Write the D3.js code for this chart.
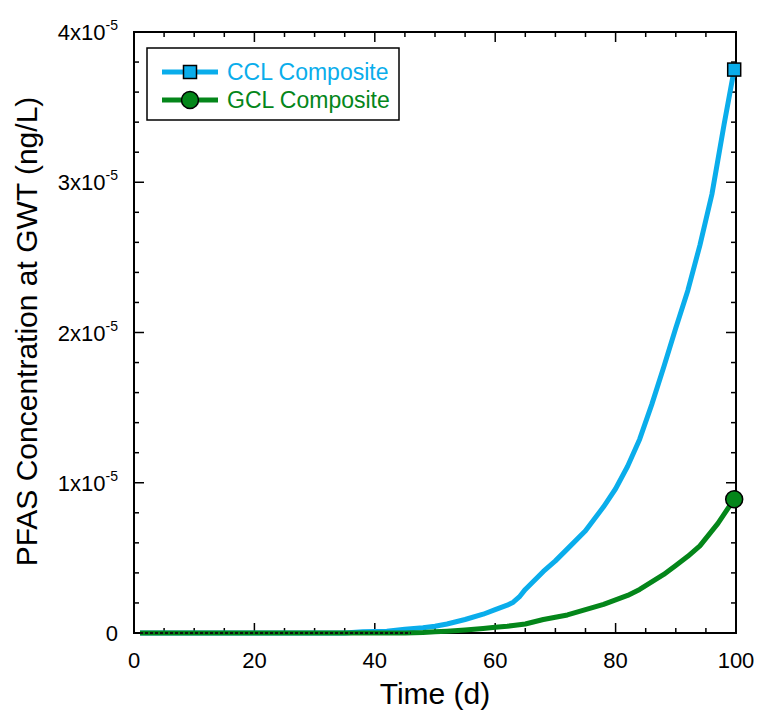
<!DOCTYPE html>
<html>
<head>
<meta charset="utf-8">
<script src="https://cdn.jsdelivr.net/npm/d3@7"></script>
<style>
    body { margin: 0; background: #fff; }
    svg text { font-family: "Liberation Sans", Arial, sans-serif; fill: #000; }
</style>
</head>
<body>
<div id="chart"></div>
<script>
// Days and concentrations (x 1e-5 ng/L)
var days = [1, 5, 10, 15, 20, 25, 30, 35, 38, 42, 45, 48, 50, 52, 55, 58, 60, 62, 63, 64, 65, 68, 70, 72, 75, 78, 80, 82, 84, 86, 88, 90, 92, 94, 96, 97, 98, 99.7];
var cclValues = [0, 0, 0, 0, 0, 0, 0, 0, 0.008, 0.012, 0.025, 0.035, 0.045, 0.06, 0.09, 0.125, 0.155, 0.185, 0.205, 0.24, 0.29, 0.41, 0.48, 0.56, 0.68, 0.84, 0.96, 1.11, 1.29, 1.52, 1.77, 2.03, 2.28, 2.58, 2.92, 3.15, 3.38, 3.75];
var gclValues = [0, 0, 0, 0, 0, 0, 0, 0, 0, 0, 0, 0.003, 0.008, 0.012, 0.02, 0.03, 0.038, 0.045, 0.05, 0.055, 0.06, 0.09, 0.105, 0.12, 0.155, 0.19, 0.22, 0.25, 0.29, 0.34, 0.39, 0.45, 0.51, 0.58, 0.68, 0.73, 0.79, 0.89];
var seriesNames = ["CCL Composite", "GCL Composite"];
var seriesColors = ["#0AADEB", "#04861A"];
var xTicks = [0, 20, 40, 60, 80, 100];
var yTicks = [0, 1, 2, 3, 4];
var zeroSpan = [1, 46]; // dotted stretch along the zero line

var width = 760, height = 715;
var margin = { top: 32, right: 24, bottom: 82, left: 134 };
var w = width - margin.left - margin.right,
    h = height - margin.top - margin.bottom;

var svg = d3.select("#chart").append("svg")
    .attr("width", width).attr("height", height);
var g = svg.append("g").attr("transform", "translate(" + margin.left + "," + margin.top + ")");

var x = d3.scaleLinear().domain([0, 100]).range([0, w]);
var y = d3.scaleLinear().domain([0, 4]).range([h, 0]);

// Ticks (inside, on all four sides)
var xMinor = d3.range(0, 101, 5), yMinor = d3.range(0, 4.01, 0.2);
function isMajorX(v) { return v % 20 == 0; }
function isMajorY(v) { return Math.abs(v - Math.round(v)) < 1e-6; }

var ticks = g.append("g").attr("stroke", "#000").attr("stroke-width", 1.5);
xMinor.forEach(function(v) {
    var len = isMajorX(v) ? 10 : 5;
    ticks.append("line").attr("x1", x(v)).attr("x2", x(v)).attr("y1", h).attr("y2", h - len);
    ticks.append("line").attr("x1", x(v)).attr("x2", x(v)).attr("y1", 0).attr("y2", len);
});
yMinor.forEach(function(v) {
    var len = isMajorY(v) ? 10 : 5;
    ticks.append("line").attr("x1", 0).attr("x2", len).attr("y1", y(v)).attr("y2", y(v));
    ticks.append("line").attr("x1", w).attr("x2", w - len).attr("y1", y(v)).attr("y2", y(v));
});

// Frame
g.append("rect").attr("width", w).attr("height", h)
    .attr("fill", "none").attr("stroke", "#000").attr("stroke-width", 2);

// Tick labels
g.selectAll(".xlab").data(xTicks).enter().append("text")
    .attr("x", function(d) { return x(d); })
    .attr("y", h + 35)
    .attr("text-anchor", "middle")
    .attr("font-size", 22)
    .text(function(d) { return d; });

var ylab = g.selectAll(".ylab").data(yTicks).enter().append("text")
    .attr("x", -16)
    .attr("y", function(d) { return y(d) + 8; })
    .attr("text-anchor", "end")
    .attr("font-size", 22);
ylab.each(function(d) {
    var t = d3.select(this);
    if (d == 0) { t.text("0"); return; }
    t.append("tspan").text(d + "x10");
    t.append("tspan").attr("font-size", 14).attr("dy", -10).text("-5");
});

// Axis titles
g.append("text")
    .attr("x", w / 2).attr("y", h + 71)
    .attr("text-anchor", "middle").attr("font-size", 30)
    .text("Time (d)");
g.append("text")
    .attr("transform", "translate(" + (-97) + "," + (h / 2 - 1) + ") rotate(-90)")
    .attr("text-anchor", "middle").attr("font-size", 30)
    .text("PFAS Concentration at GWT (ng/L)");

// Series
var line = d3.line()
    .x(function(d) { return x(d[0]); })
    .y(function(d) { return y(d[1]); });

var cclData = days.map(function(d, i) { return [d, cclValues[i]]; });
var gclData = days.map(function(d, i) { return [d, gclValues[i]]; });

g.append("path").datum(cclData).attr("d", line)
    .attr("fill", "none").attr("stroke", seriesColors[0])
    .attr("stroke-width", 5).attr("stroke-linejoin", "round");
g.append("path").datum(gclData).attr("d", line)
    .attr("fill", "none").attr("stroke", seriesColors[1])
    .attr("stroke-width", 5).attr("stroke-linejoin", "round");

g.append("line")
    .attr("x1", x(zeroSpan[0])).attr("x2", x(zeroSpan[1]))
    .attr("y1", y(0)).attr("y2", y(0))
    .attr("stroke", "#111").attr("stroke-width", 2).attr("stroke-dasharray", "3,2");

// End markers
var lastC = cclData[cclData.length - 1], lastG = gclData[gclData.length - 1];
g.append("rect")
    .attr("x", x(lastC[0]) - 6.5).attr("y", y(lastC[1]) - 6.5)
    .attr("width", 13).attr("height", 13)
    .attr("fill", seriesColors[0]).attr("stroke", "#000").attr("stroke-width", 1.5);
g.append("circle")
    .attr("cx", x(lastG[0])).attr("cy", y(lastG[1])).attr("r", 8.5)
    .attr("fill", seriesColors[1]).attr("stroke", "#000").attr("stroke-width", 1.5);

// Legend
var legend = svg.append("g").attr("transform", "translate(147,48)");
legend.append("rect").attr("width", 252).attr("height", 72)
    .attr("fill", "#fff").attr("stroke", "#000").attr("stroke-width", 1.5);

seriesNames.forEach(function(name, i) {
    var ly = 24 + i * 28;
    legend.append("line").attr("x1", 15).attr("x2", 71).attr("y1", ly).attr("y2", ly)
        .attr("stroke", seriesColors[i]).attr("stroke-width", 5);
    if (i == 0) {
        legend.append("rect").attr("x", 43 - 6.5).attr("y", ly - 6.5)
            .attr("width", 13).attr("height", 13)
            .attr("fill", seriesColors[i]).attr("stroke", "#000").attr("stroke-width", 1.5);
    } else {
        legend.append("circle").attr("cx", 43).attr("cy", ly).attr("r", 8.5)
            .attr("fill", seriesColors[i]).attr("stroke", "#000").attr("stroke-width", 1.5);
    }
    legend.append("text").attr("x", 80).attr("y", ly + 8)
        .attr("font-size", 23).style("fill", seriesColors[i])
        .text(name);
});
</script>
</body>
</html>
